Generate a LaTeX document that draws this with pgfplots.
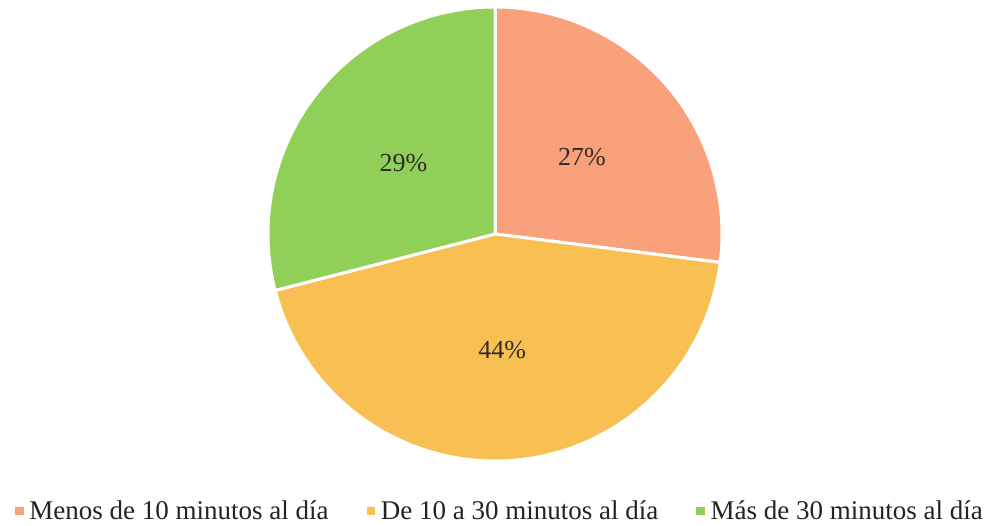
\documentclass[border=0pt]{standalone}
\usepackage{fontspec}
\setmainfont{Liberation Serif}
\usepackage{pgfplots}
\usepackage{pgfplotstable}
\pgfplotsset{compat=1.18}

\definecolor{sliceA}{RGB}{249,161,122}
\definecolor{sliceB}{RGB}{248,191,82}
\definecolor{sliceC}{RGB}{144,208,88}
\definecolor{labeltext}{RGB}{50,45,40}
\definecolor{legendtext}{RGB}{35,35,35}

\tikzset{
  slice/.style={line width=3pt, draw=white, line join=round},
  pct/.style={font=\fontsize{26}{30}\selectfont, text=labeltext, inner sep=0pt},
}

% share of respondents (per cent) for each category
\pgfplotstableread[col sep=comma]{
share,category
27,Menos de 10 minutos al día
44,De 10 a 30 minutos al día
29,Más de 30 minutos al día
}\piedata

\begin{document}
\begin{tikzpicture}
  \pgfplotstablegetelem{0}{share}\of\piedata \let\shareA\pgfplotsretval
  \pgfplotstablegetelem{1}{share}\of\piedata \let\shareB\pgfplotsretval
  \pgfplotstablegetelem{2}{share}\of\piedata \let\shareC\pgfplotsretval
  \pgfplotstablegetelem{0}{category}\of\piedata \let\catA\pgfplotsretval
  \pgfplotstablegetelem{1}{category}\of\piedata \let\catB\pgfplotsretval
  \pgfplotstablegetelem{2}{category}\of\piedata \let\catC\pgfplotsretval
  % slices start at 12 o'clock and run clockwise
  \pgfmathsetmacro\angA{90}
  \pgfmathsetmacro\angB{\angA-3.6*\shareA}
  \pgfmathsetmacro\angC{\angB-3.6*\shareB}
  \pgfmathsetmacro\angD{\angC-3.6*\shareC}
  \def\cx{495}\def\cy{292}\def\rad{227}\def\lrad{116}
  \pgfmathsetmacro\labAx{\cx+\lrad*cos((\angA+\angB)/2)}
  \pgfmathsetmacro\labAy{\cy+\lrad*sin((\angA+\angB)/2)}
  \pgfmathsetmacro\labBx{\cx+\lrad*cos((\angB+\angC)/2)}
  \pgfmathsetmacro\labBy{\cy+\lrad*sin((\angB+\angC)/2)}
  \pgfmathsetmacro\labCx{\cx+\lrad*cos((\angC+\angD)/2)}
  \pgfmathsetmacro\labCy{\cy+\lrad*sin((\angC+\angD)/2)}
  \useasboundingbox (0,0) rectangle (988pt,526pt);
  \begin{axis}[
    at={(0,0)}, anchor=south west,
    scale only axis, width=988pt, height=526pt,
    xmin=0, xmax=988, ymin=0, ymax=526,
    hide axis, clip=false,
    legend columns=3,
    legend image code/.code={%
      \fill[#1, draw=none] (0pt,-4pt) rectangle (8.5pt,4.5pt);
      \path (12pt,0pt);},
    legend style={
      draw=none, fill=none, inner sep=0pt,
      at={(axis cs:500,2.5)}, anchor=south,
      font=\fontsize{27}{32}\selectfont,
      text=legendtext,
      /tikz/every even column/.append style={column sep=36pt},
    },
  ]
    \fill[sliceA, slice] (axis cs:\cx,\cy) -- ++(\angA:\rad pt)
      arc[start angle=\angA, end angle=\angB, radius=\rad pt] -- cycle;
    \fill[sliceB, slice] (axis cs:\cx,\cy) -- ++(\angB:\rad pt)
      arc[start angle=\angB, end angle=\angC, radius=\rad pt] -- cycle;
    \fill[sliceC, slice] (axis cs:\cx,\cy) -- ++(\angC:\rad pt)
      arc[start angle=\angC, end angle=\angD, radius=\rad pt] -- cycle;
    \node[pct] at (axis cs:\labAx,\labAy) {\shareA\%};
    \node[pct] at (axis cs:\labBx,\labBy) {\shareB\%};
    \node[pct] at (axis cs:\labCx,\labCy) {\shareC\%};
    \addlegendimage{fill=sliceA}
    \addlegendentry{\catA}
    \addlegendimage{fill=sliceB}
    \addlegendentry{\catB}
    \addlegendimage{fill=sliceC}
    \addlegendentry{\catC}
  \end{axis}
\end{tikzpicture}
\end{document}
